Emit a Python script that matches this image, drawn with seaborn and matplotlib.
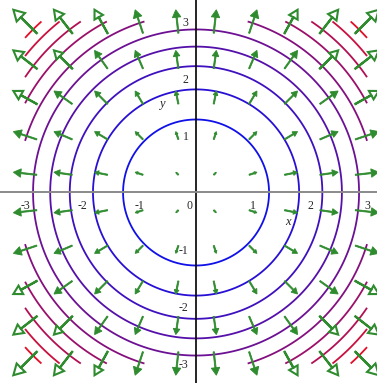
import numpy as np
import matplotlib
matplotlib.use("Agg")
import matplotlib.pyplot as plt
import seaborn as sns

# Sample points of the gradient field and contour levels of f(x, y) = x^2 + y^2
grid_pts = [-3.0, -2.333, -1.667, -1.0, -0.333, 0.333, 1.0, 1.667, 2.333, 3.0]
levels = [1.64, 3.27, 4.91, 6.55, 8.18, 9.82, 11.45, 13.09, 14.73, 16.36]
tick_pos = [-3, -2.5, -2, -1.5, -1, -0.5, 0.5, 1, 1.5, 2, 2.5, 3]
tick_lbl = ["-3", "", "-2", "", "-1", "", "", "1", "", "2", "", "3"]

sns.set_style("white")
plt.rcParams["axes.unicode_minus"] = False
serif = "Liberation Serif"
green = "#2e8b2e"

fig = plt.figure(figsize=(3.77, 3.83), dpi=100)
ax = fig.add_axes([0, 0, 1, 1])
ax.set_xlim(-3.44, 3.175)
ax.set_ylim(-3.342, 3.377)

# contour lines on the square [-3, 3] x [-3, 3], shaded blue -> red
gx = np.linspace(-3, 3, 400)
GX, GY = np.meshgrid(gx, gx)
F = GX**2 + GY**2
cols = sns.blend_palette(["#1010e8", "#e0102a"], len(levels))
ax.contour(GX, GY, F, levels=levels, colors=cols, linewidths=1.3, zorder=2)

# gradient field (2x, 2y), arrows centred on the sample points,
# head size proportional to arrow length
arrow_scale = 0.0685
for xi in grid_pts:
    for yi in grid_pts:
        u, v = 2 * xi * arrow_scale, 2 * yi * arrow_scale
        L = np.hypot(u, v)
        big = np.hypot(xi, yi) > 3.2
        ax.arrow(xi - u / 2, yi - v / 2, u, v,
                 width=0.006 if big else 0.022,
                 head_width=0.36 * L, head_length=0.32 * L,
                 length_includes_head=True,
                 fc="white" if big else green, ec=green,
                 lw=1.5 if big else 0.6, zorder=3, clip_on=True)

# axes through the origin
for side in ("top", "right"):
    ax.spines[side].set_visible(False)
ax.spines["left"].set_position(("data", 0))
ax.spines["bottom"].set_position(("data", 0))
ax.spines["left"].set_color("black")
ax.spines["bottom"].set_color("#8a8a8a")
ax.spines["left"].set_linewidth(1.2)
ax.spines["bottom"].set_linewidth(1.4)
ax.spines["left"].set_zorder(4)
ax.spines["bottom"].set_zorder(4)

ax.set_xticks(tick_pos, tick_lbl)
ax.set_yticks(tick_pos, tick_lbl)
ax.tick_params(axis="both", direction="out", length=3.5, width=0.8,
               color="black", labelsize=8.5, pad=2)
for lab in ax.get_xticklabels() + ax.get_yticklabels():
    lab.set_fontfamily(serif)

ax.text(-0.06, -0.14, "0", fontsize=8.5, family=serif, ha="right", va="top")
ax.text(1.62, -0.52, "x", fontsize=9, family=serif, style="italic",
        ha="center", va="center")
ax.text(-0.6, 1.56, "y", fontsize=9, family=serif, style="italic",
        ha="center", va="center")

fig.savefig("out.png", dpi=100)
